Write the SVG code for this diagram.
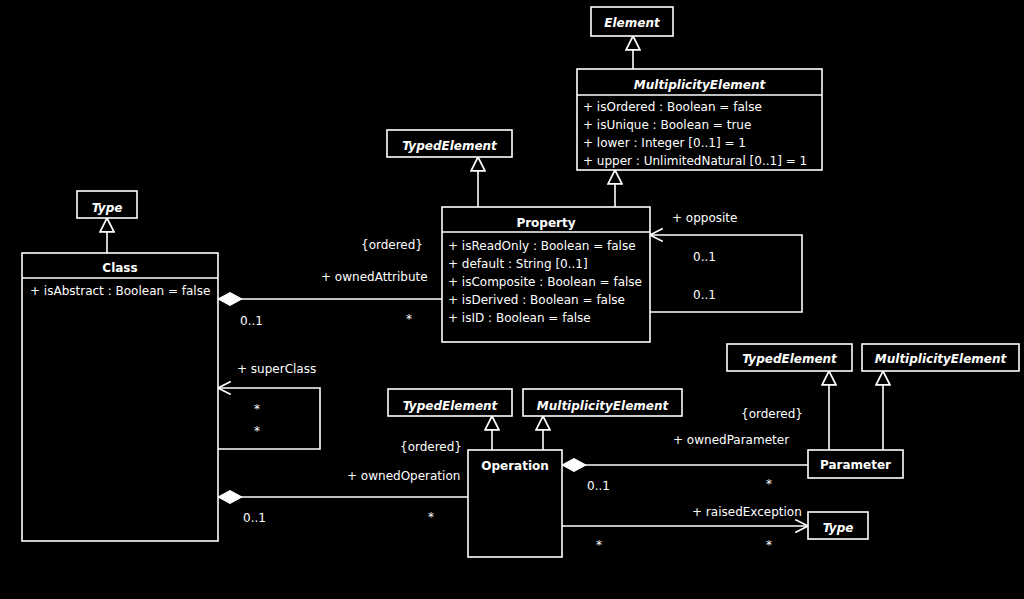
<svg xmlns="http://www.w3.org/2000/svg" width="1024" height="599" viewBox="0 0 1024 599">
<defs>
<style>
text{font-family:"DejaVu Sans","Liberation Sans",sans-serif;font-size:12px;fill:#fff}
.hd{font-weight:bold;text-anchor:middle}
.ab{font-weight:bold;font-style:italic;text-anchor:middle}
.box{fill:#000;stroke:#fff;stroke-width:1.6}
.ln{fill:none;stroke:#fff;stroke-width:1.6}
.gen{fill:none;stroke:#fff;stroke-width:1.6;marker-end:url(#tri)}
.nav{fill:none;stroke:#fff;stroke-width:1.6;marker-end:url(#open)}
.comp{fill:none;stroke:#fff;stroke-width:1.6;marker-start:url(#dia)}
</style>
<marker id="tri" markerUnits="userSpaceOnUse" markerWidth="16" markerHeight="16" viewBox="-1 -1 15 15" refX="13" refY="6.5" orient="auto">
<path d="M0,0 L13,6.5 L0,13 Z" fill="#000" stroke="#fff" stroke-width="1.6"/>
</marker>
<marker id="open" markerUnits="userSpaceOnUse" markerWidth="16" markerHeight="16" viewBox="-1 -1 15 15" refX="12" refY="6" orient="auto">
<path d="M0,0 L12,6 L0,12" fill="none" stroke="#fff" stroke-width="1.6"/>
</marker>
<marker id="dia" markerUnits="userSpaceOnUse" markerWidth="26" markerHeight="15" viewBox="0 -1 25 15" refX="0" refY="6.5" orient="auto">
<path d="M0,6.5 L12,0 L24,6.5 L12,13 Z" fill="#fff" stroke="#fff" stroke-width="1"/>
</marker>
</defs>
<rect width="1024" height="599" fill="#000"/>

<g id="connectors">
<path class="gen" d="M633,69 V36"/>
<path class="gen" d="M478,207 V157"/>
<path class="gen" d="M615,207 V170"/>
<path class="gen" d="M107,253 V218"/>
<path class="gen" d="M492,450 V416"/>
<path class="gen" d="M543,450 V416"/>
<path class="gen" d="M829,450 V371"/>
<path class="gen" d="M883,450 V371"/>
<path class="comp" d="M218,299 H442"/>
<path class="comp" d="M218,497 H468"/>
<path class="comp" d="M562,465 H808"/>
<path class="nav" d="M650,312 H802 V235 H650"/>
<path class="nav" d="M218,449 H320 V388 H218"/>
<path class="nav" d="M562,526 H808"/>
</g>

<g id="labels">
<text x="361" y="249">{ordered}</text>
<text x="321" y="281">+ ownedAttribute</text>
<text x="406" y="323">*</text>
<text x="240" y="325">0..1</text>
<text x="672" y="222">+ opposite</text>
<text x="693" y="261">0..1</text>
<text x="693" y="299">0..1</text>
<text x="237" y="373">+ superClass</text>
<text x="254" y="413">*</text>
<text x="254" y="435">*</text>
<text x="243" y="522">0..1</text>
<text x="400" y="451">{ordered}</text>
<text x="347" y="480">+ ownedOperation</text>
<text x="428" y="521">*</text>
<text x="587" y="490">0..1</text>
<text x="596" y="549">*</text>
<text x="741" y="418">{ordered}</text>
<text x="673" y="444">+ ownedParameter</text>
<text x="766" y="488">*</text>
<text x="692" y="516">+ raisedException</text>
<text x="766" y="549">*</text>
</g>

<g id="Element">
<rect class="box" x="591" y="7" width="82" height="29"/>
<text class="ab" x="632" y="27">Element</text>
</g>

<g id="MultiplicityElement">
<rect class="box" x="577" y="69" width="245" height="101"/>
<path class="ln" d="M577,95 H822"/>
<text class="ab" x="699.5" y="89">MultiplicityElement</text>
<text x="583" y="111">+ isOrdered : Boolean = false</text>
<text x="583" y="129">+ isUnique : Boolean = true</text>
<text x="583" y="147">+ lower : Integer [0..1] = 1</text>
<text x="583" y="165">+ upper : UnlimitedNatural [0..1] = 1</text>
</g>

<g id="TypedElement1">
<rect class="box" x="387" y="130" width="125" height="27"/>
<text class="ab" x="449.5" y="150">TypedElement</text>
</g>

<g id="Property">
<rect class="box" x="442" y="207" width="208" height="135"/>
<path class="ln" d="M442,232 H650"/>
<text class="hd" x="546" y="227">Property</text>
<text x="448" y="250">+ isReadOnly : Boolean = false</text>
<text x="448" y="268">+ default : String [0..1]</text>
<text x="448" y="286">+ isComposite : Boolean = false</text>
<text x="448" y="304">+ isDerived : Boolean = false</text>
<text x="448" y="322">+ isID : Boolean = false</text>
</g>

<g id="Type1">
<rect class="box" x="77" y="191" width="60" height="27"/>
<text class="ab" x="107" y="212">Type</text>
</g>

<g id="Class">
<rect class="box" x="22" y="253" width="196" height="288"/>
<path class="ln" d="M22,278 H218"/>
<text class="hd" x="120" y="272">Class</text>
<text x="30" y="295">+ isAbstract : Boolean = false</text>
</g>

<g id="TypedElement2">
<rect class="box" x="388" y="389" width="124" height="27"/>
<text class="ab" x="450" y="410">TypedElement</text>
</g>

<g id="MultiplicityElement2">
<rect class="box" x="523" y="389" width="159" height="27"/>
<text class="ab" x="602.5" y="410">MultiplicityElement</text>
</g>

<g id="Operation">
<rect class="box" x="468" y="450" width="94" height="107"/>
<text class="hd" x="515" y="470">Operation</text>
</g>

<g id="TypedElement3">
<rect class="box" x="727" y="344" width="125" height="27"/>
<text class="ab" x="789.5" y="363">TypedElement</text>
</g>

<g id="MultiplicityElement3">
<rect class="box" x="862" y="344" width="157" height="27"/>
<text class="ab" x="940.5" y="363">MultiplicityElement</text>
</g>

<g id="Parameter">
<rect class="box" x="808" y="450" width="95" height="28"/>
<text class="hd" x="855.5" y="469">Parameter</text>
</g>

<g id="Type2">
<rect class="box" x="808" y="512" width="60" height="27"/>
<text class="ab" x="838" y="532">Type</text>
</g>
</svg>
